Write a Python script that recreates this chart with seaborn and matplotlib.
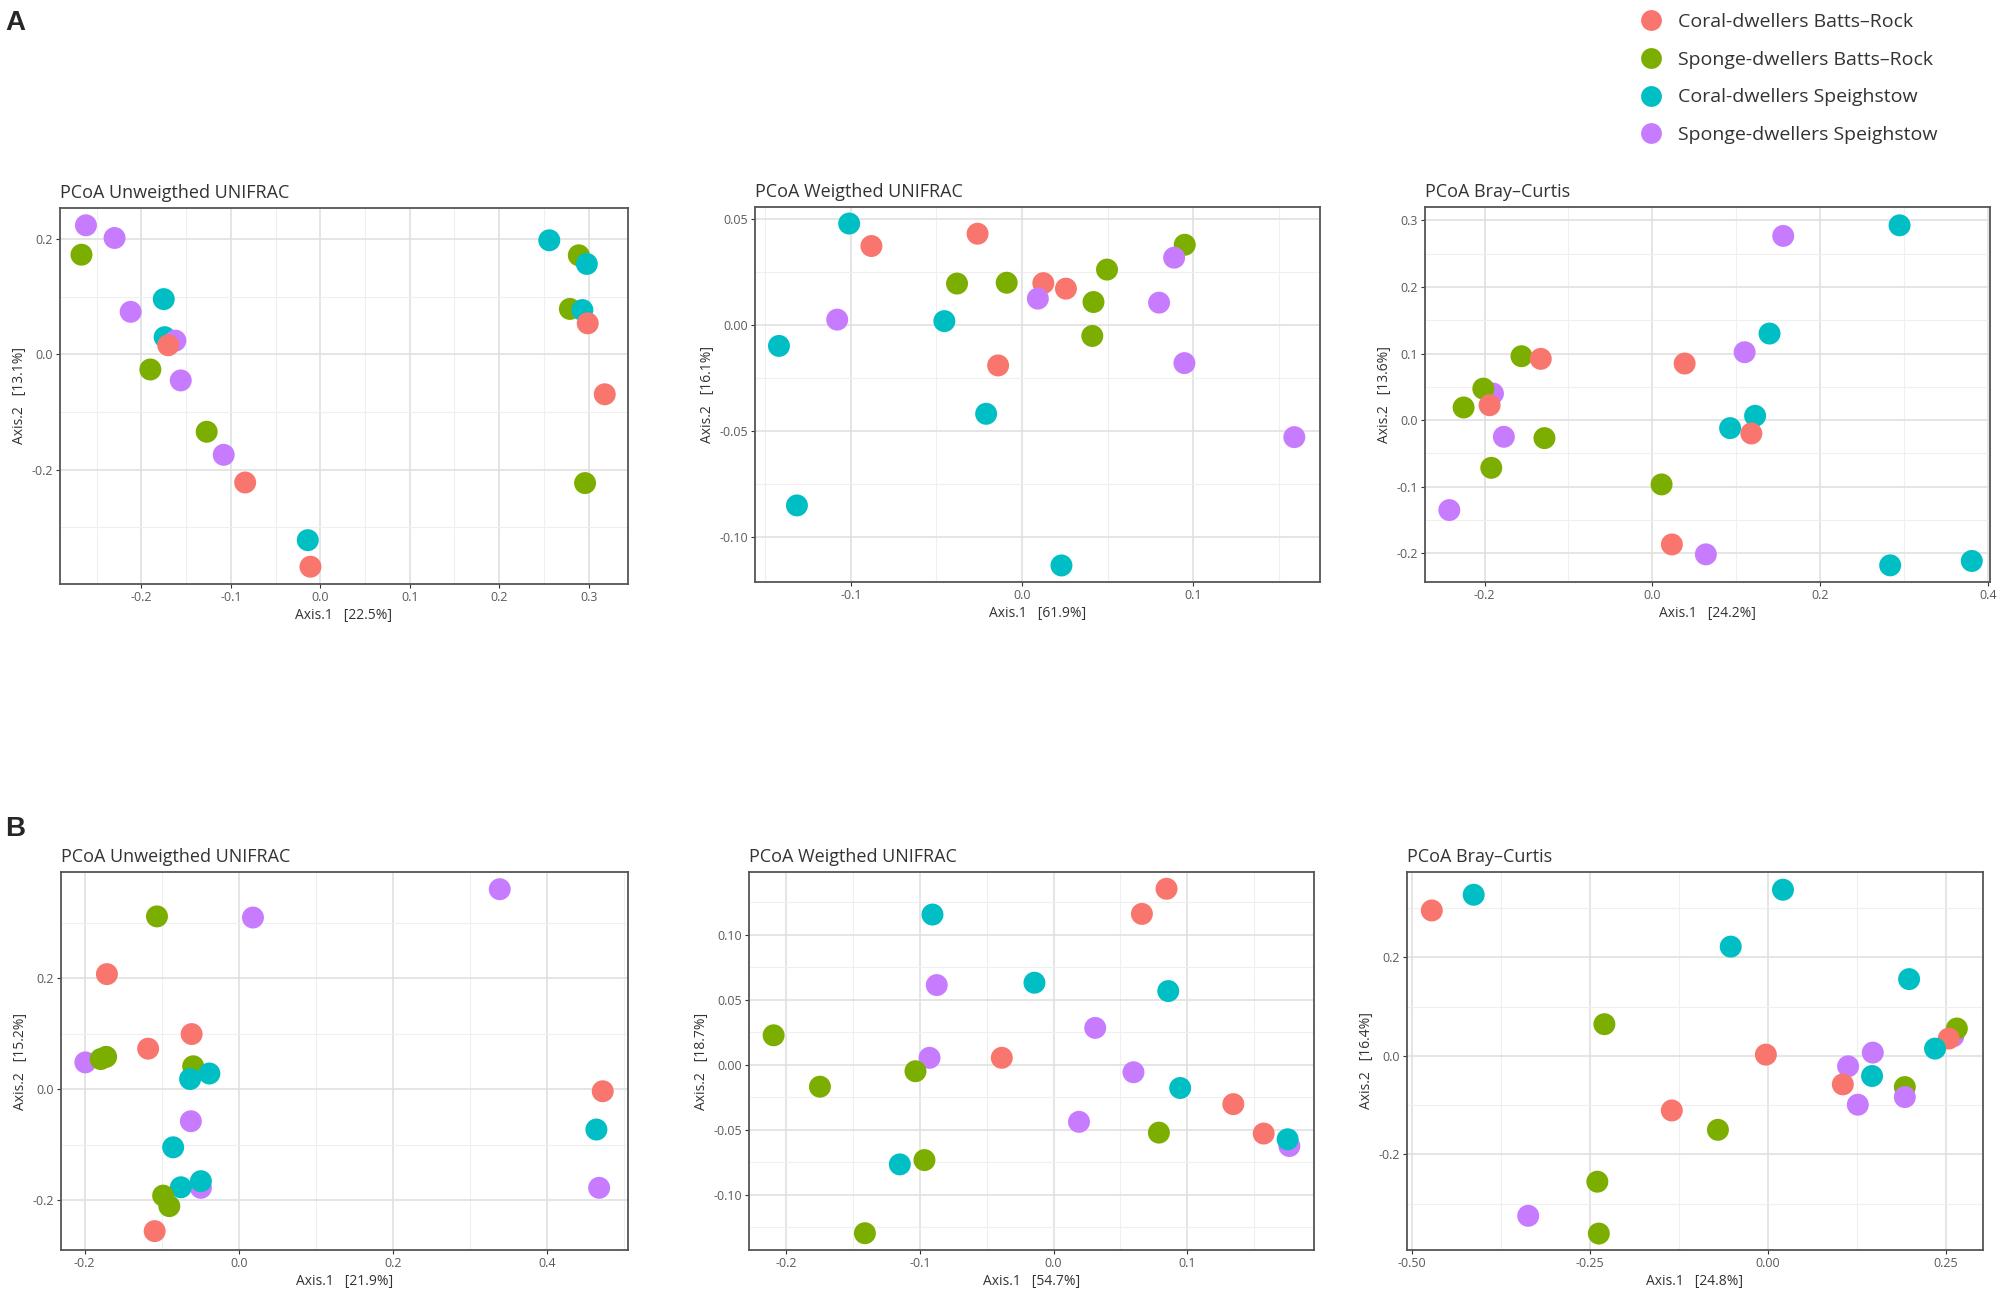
import matplotlib
matplotlib.use("Agg")
import matplotlib.pyplot as plt
from matplotlib.ticker import MultipleLocator, FormatStrFormatter
from matplotlib.lines import Line2D
import pandas as pd
import seaborn as sns

sns.set_theme(style="white")
plt.rcParams["font.family"] = ["Open Sans", "DejaVu Sans"]
plt.rcParams["axes.unicode_minus"] = False

GROUPS = ["Coral-dwellers Batts–Rock", "Sponge-dwellers Batts–Rock",
          "Coral-dwellers Speighstow", "Sponge-dwellers Speighstow"]
COLORS = ["#F8766D", "#7CAE00", "#00BFC4", "#C77CFF"]

# group code per point: 0 coral BR, 1 sponge BR, 2 coral SP, 3 sponge SP
# --- A: Unweighted UniFrac
a1_x = [-0.262, -0.230, -0.267, -0.175, -0.212, -0.174, -0.162, -0.170, -0.190, -0.156, -0.127, -0.108,
        -0.084, -0.014, -0.011, 0.256, 0.289, 0.298, 0.279, 0.293, 0.299, 0.318, 0.296]
a1_y = [0.224, 0.202, 0.173, 0.096, 0.074, 0.030, 0.024, 0.016, -0.026, -0.045, -0.134, -0.174,
        -0.222, -0.322, -0.368, 0.198, 0.172, 0.157, 0.079, 0.077, 0.054, -0.069, -0.223]
a1_g = [3, 3, 1, 2, 3, 2, 3, 0, 1, 3, 1, 3, 0, 2, 0, 2, 1, 2, 1, 2, 0, 0, 1]

# --- A: Weighted UniFrac
a2_x = [-0.101, -0.088, -0.026, -0.038, -0.009, 0.0124, 0.0256, 0.0092, 0.0496, 0.0417, 0.041, 0.095,
        0.0888, 0.080, 0.0948, 0.159, -0.108, -0.0454, -0.142, -0.014, -0.021, -0.1315, 0.023]
a2_y = [0.048, 0.0374, 0.0432, 0.0197, 0.0201, 0.0199, 0.0173, 0.0126, 0.0263, 0.011, -0.005, 0.038,
        0.0319, 0.0107, -0.0178, -0.0527, 0.0027, 0.002, -0.0097, -0.0189, -0.0417, -0.0849, -0.1132]
a2_g = [2, 0, 0, 1, 1, 0, 0, 3, 1, 1, 1, 1, 3, 3, 3, 3, 3, 2, 2, 0, 2, 2, 2]

# --- A: Bray-Curtis
a3_x = [0.2947, 0.156, 0.1397, 0.110, 0.0385, -0.156, -0.133, -0.190, -0.2015, -0.225, -0.194, -0.177,
        -0.1286, -0.192, 0.1225, 0.0927, 0.118, 0.011, -0.242, 0.0233, 0.0638, 0.2835, 0.3808]
a3_y = [0.2925, 0.2766, 0.130, 0.102, 0.085, 0.096, 0.092, 0.040, 0.0473, 0.019, 0.0224, -0.025,
        -0.027, -0.0716, 0.0065, -0.012, -0.020, -0.0965, -0.135, -0.1866, -0.2015, -0.218, -0.2114]
a3_g = [2, 3, 2, 3, 0, 1, 0, 3, 1, 1, 0, 3, 1, 1, 2, 2, 0, 1, 3, 0, 3, 2, 2]

# --- B: Unweighted UniFrac
b1_x = [0.339, -0.106, 0.0186, -0.171, -0.061, -0.1175, -0.199, -0.179, -0.172, -0.059, -0.063, -0.038,
        0.4727, 0.4645, -0.062, -0.085, -0.049, -0.049, -0.075, -0.098, -0.090, 0.468, -0.109]
b1_y = [0.360, 0.311, 0.309, 0.207, 0.099, 0.0727, 0.048, 0.054, 0.058, 0.041, 0.018, 0.028,
        -0.004, -0.073, -0.058, -0.105, -0.178, -0.166, -0.177, -0.192, -0.211, -0.178, -0.256]
b1_g = [3, 1, 3, 0, 0, 0, 3, 1, 1, 1, 2, 2, 0, 2, 3, 2, 3, 2, 2, 1, 1, 3, 0]

# --- B: Weighted UniFrac
b2_x = [0.0844, 0.066, -0.0905, -0.0873, -0.0143, 0.0857, 0.0311, -0.2092, -0.0927, -0.1032, -0.0387,
        0.0597, -0.1746, 0.0946, 0.1343, 0.019, 0.0787, 0.157, 0.1762, 0.1749, -0.0965, -0.1149, -0.141]
b2_y = [0.1353, 0.116, 0.1155, 0.0613, 0.0631, 0.0567, 0.0284, 0.0227, 0.0054, -0.0049, 0.0054,
        -0.0057, -0.0168, -0.0178, -0.0302, -0.0438, -0.0521, -0.0528, -0.0624, -0.0572, -0.0732, -0.0765, -0.1294]
b2_g = [0, 0, 2, 3, 2, 2, 3, 1, 3, 1, 0, 3, 1, 2, 0, 3, 1, 0, 3, 2, 1, 2, 1]

# --- B: Bray-Curtis
b3_x = [-0.413, -0.4718, 0.021, -0.0523, 0.198, -0.2296, 0.260, 0.265, 0.2536, 0.2344, -0.003, 0.147,
        0.1124, 0.146, 0.105, 0.192, 0.192, 0.126, -0.135, -0.0703, -0.2395, -0.3365, -0.2374]
b3_y = [0.3273, 0.2954, 0.3375, 0.222, 0.156, 0.0645, 0.040, 0.0557, 0.0353, 0.0149, 0.0027, 0.0068,
        -0.021, -0.0407, -0.0577, -0.0632, -0.0835, -0.099, -0.1107, -0.150, -0.2553, -0.3246, -0.3606]
b3_g = [2, 0, 2, 2, 2, 1, 3, 1, 0, 2, 0, 3, 3, 2, 0, 1, 3, 3, 0, 1, 1, 3, 1]

W, H = 2000, 1297


def draw_panel(fig, box, xs, ys, gs, title, var1, var2, xlim, ylim, xstep, ystep, xfmt, yfmt):
    left, top, right, bottom = box
    ax = fig.add_axes([left / W, 1 - bottom / H, (right - left) / W, (bottom - top) / H])
    df = pd.DataFrame({"x": xs, "y": ys, "group": [GROUPS[g] for g in gs]})
    sns.scatterplot(data=df, x="x", y="y", hue="group", hue_order=GROUPS, palette=COLORS,
                    s=250, linewidth=0, alpha=1, legend=False, ax=ax, zorder=3)
    ax.set_xlim(*xlim)
    ax.set_ylim(*ylim)
    ax.xaxis.set_major_locator(MultipleLocator(xstep))
    ax.xaxis.set_minor_locator(MultipleLocator(xstep / 2))
    ax.yaxis.set_major_locator(MultipleLocator(ystep))
    ax.yaxis.set_minor_locator(MultipleLocator(ystep / 2))
    ax.xaxis.set_major_formatter(FormatStrFormatter(xfmt))
    ax.yaxis.set_major_formatter(FormatStrFormatter(yfmt))
    ax.grid(True, which="major", color="#E0E0E0", linewidth=1.2, zorder=0)
    ax.grid(True, which="minor", color="#EFEFEF", linewidth=0.8, zorder=0)
    ax.set_axisbelow(True)
    ax.tick_params(which="major", direction="out", length=3, width=0.8, color="#333333",
                   labelsize=9, labelcolor="#5A5A5A", pad=2, bottom=True, left=True)
    ax.tick_params(which="minor", length=0)
    for sp in ax.spines.values():
        sp.set_color("#555555")
        sp.set_linewidth(1.3)
    ax.set_xlabel(f"Axis.1   [{var1}%]", fontsize=10, color="#333333", labelpad=3)
    ax.set_ylabel(f"Axis.2   [{var2}%]", fontsize=10, color="#333333", labelpad=3)
    ax.set_title(title, loc="left", fontsize=13, color="#333333", pad=7)
    return ax


fig = plt.figure(figsize=(20, 12.97), dpi=100)

ax = draw_panel(fig, (60, 208, 628, 584), a1_x, a1_y, a1_g, "PCoA Unweigthed UNIFRAC", 22.5, 13.1,
                (-0.291, 0.344), (-0.398, 0.254), 0.1, 0.2, "%.1f", "%.1f")
ax = draw_panel(fig, (755, 207, 1320, 582), a2_x, a2_y, a2_g, "PCoA Weigthed UNIFRAC", 61.9, 16.1,
                (-0.156, 0.174), (-0.121, 0.0558), 0.1, 0.05, "%.1f", "%.2f")
ax = draw_panel(fig, (1425, 207, 1990, 582), a3_x, a3_y, a3_g, "PCoA Bray–Curtis", 24.2, 13.6,
                (-0.271, 0.4025), (-0.243, 0.32), 0.2, 0.1, "%.1f", "%.1f")
ax = draw_panel(fig, (61, 872, 628, 1250), b1_x, b1_y, b1_g, "PCoA Unweigthed UNIFRAC", 21.9, 15.2,
                (-0.2306, 0.5055), (-0.29, 0.391), 0.2, 0.2, "%.1f", "%.1f")
ax = draw_panel(fig, (749, 872, 1314, 1250), b2_x, b2_y, b2_g, "PCoA Weigthed UNIFRAC", 54.7, 18.7,
                (-0.2276, 0.1946), (-0.1423, 0.1482), 0.1, 0.05, "%.1f", "%.2f")
ax = draw_panel(fig, (1407, 872, 1983, 1250), b3_x, b3_y, b3_g, "PCoA Bray–Curtis", 24.8, 16.4,
                (-0.5066, 0.3017), (-0.394, 0.3735), 0.25, 0.2, "%.2f", "%.1f")

fig.text(5 / W, 1 - 23 / H, "A", fontsize=20, fontweight="bold", va="center", ha="left",
         family=["Liberation Sans", "DejaVu Sans"])
fig.text(5 / W, 1 - 829 / H, "B", fontsize=20, fontweight="bold", va="center", ha="left",
         family=["Liberation Sans", "DejaVu Sans"])

handles = [Line2D([0], [0], marker="o", linestyle="", markersize=15, markerfacecolor=c,
                  markeredgewidth=0) for c in COLORS]
fig.legend(handles, GROUPS, loc="upper left", bbox_to_anchor=(1630 / W, 1 - 3 / H), frameon=False,
           fontsize=14, labelspacing=1.02, handletextpad=0.75, borderpad=0, handlelength=1.2,
           labelcolor="#333333")

fig.savefig("out.png", dpi=100)
